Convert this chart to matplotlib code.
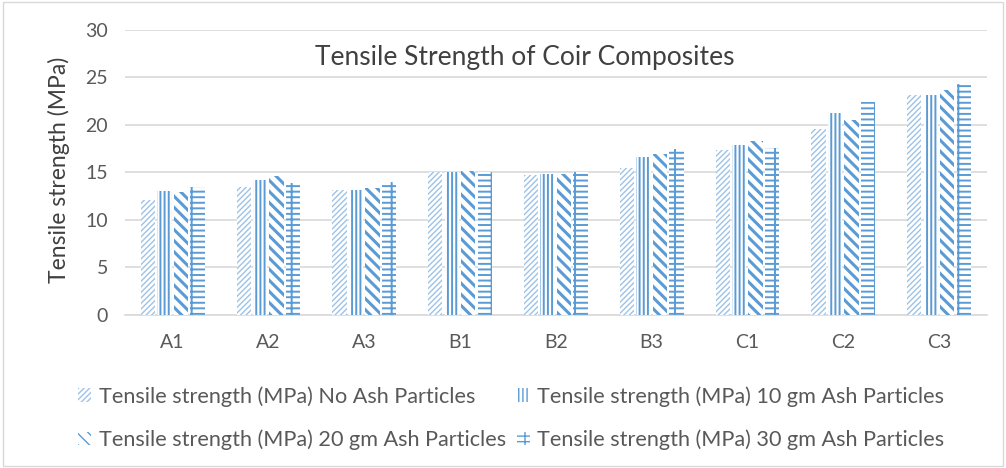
import numpy as np
import matplotlib
matplotlib.use("Agg")
from matplotlib import pyplot as plt
from matplotlib.patches import Rectangle

categories = ["A1", "A2", "A3", "B1", "B2", "B3", "C1", "C2", "C3"]
no_ash = [12.1, 13.5, 13.2, 15.0, 14.7, 15.5, 17.4, 19.6, 23.2]
ash_10 = [13.0, 14.2, 13.2, 15.0, 14.8, 16.6, 17.9, 21.3, 23.2]
ash_20 = [12.9, 14.6, 13.4, 15.2, 14.8, 16.9, 18.3, 20.5, 23.7]
ash_30 = [13.5, 13.9, 14.0, 15.1, 15.1, 17.5, 17.6, 22.4, 24.3]
series_names = [
    "Tensile strength (MPa) No Ash Particles",
    "Tensile strength (MPa) 10 gm Ash Particles",
    "Tensile strength (MPa) 20 gm Ash Particles",
    "Tensile strength (MPa) 30 gm Ash Particles",
]

plt.rcParams['font.family'] = ['Lato', 'DejaVu Sans']

fig = plt.figure(figsize=(10.06, 4.68), dpi=100)
ax = fig.add_axes([0.124, 0.327, 0.857, 0.609])

x = np.arange(len(categories))
width = 0.15
step = 0.172
# colour, hatch, hatch line width
styles = [
    ("#9DC3E6", "//////", 1.0),
    ("#5B9BD5", "||||", 1.4),
    ("#5B9BD5", "\\\\\\", 2.2),
    ("#5B9BD5", "---|", 1.4),
]
all_data = [no_ash, ash_10, ash_20, ash_30]
handles = []
for i, vals in enumerate(all_data):
    col, hatch, hlw = styles[i]
    with plt.rc_context({'hatch.linewidth': hlw}):
        bars = ax.bar(x + (i - 1.5) * step, vals, width, facecolor="white",
                      edgecolor=col, hatch=hatch, linewidth=0, zorder=3)
    for b in bars:
        if hasattr(b, "set_hatch_linewidth"):
            b.set_hatch_linewidth(hlw)
    handles.append(bars)

ax.set_xlim(-0.5, len(categories) - 0.5)
ax.set_ylim(0, 30)
ax.set_yticks(range(0, 31, 5))
ax.set_xticks(x)
ax.set_xticklabels(categories)
ax.grid(axis="y", color="#D9D9D9", linewidth=1.2, zorder=0)
for s in ["top", "right", "left"]:
    ax.spines[s].set_visible(False)
ax.spines["bottom"].set_color("#D9D9D9")
ax.spines["bottom"].set_linewidth(1.2)
ax.tick_params(axis="both", length=0, labelsize=14, labelcolor="#595959")
ax.tick_params(axis="y", pad=12)
ax.tick_params(axis="x", pad=14)

# axis title placed in figure coords
fig.text(0.059, 0.636, "Tensile strength (MPa)", rotation=90,
         ha="center", va="center", fontsize=16.5, color="#404040")

fig.text(0.522, 0.878, "Tensile Strength of Coir Composites",
         ha="center", va="center", fontsize=19, color="#404040")

# legend filled row by row like the original
order = [0, 2, 1, 3]
fig.legend([handles[k] for k in order], [series_names[k] for k in order],
           loc="upper left", bbox_to_anchor=(0.0775, 0.175),
           ncol=2, frameon=False, fontsize=15.6, labelcolor="#595959",
           borderpad=0, borderaxespad=0,
           handlelength=0.6, handleheight=0.6, handletextpad=0.35,
           columnspacing=0.5, labelspacing=1.05)

fig.add_artist(Rectangle((0.003, 0.005), 0.994, 0.99, transform=fig.transFigure,
                         fill=False, edgecolor="#D9D9D9", linewidth=1))

fig.savefig("out.png", dpi=100)
